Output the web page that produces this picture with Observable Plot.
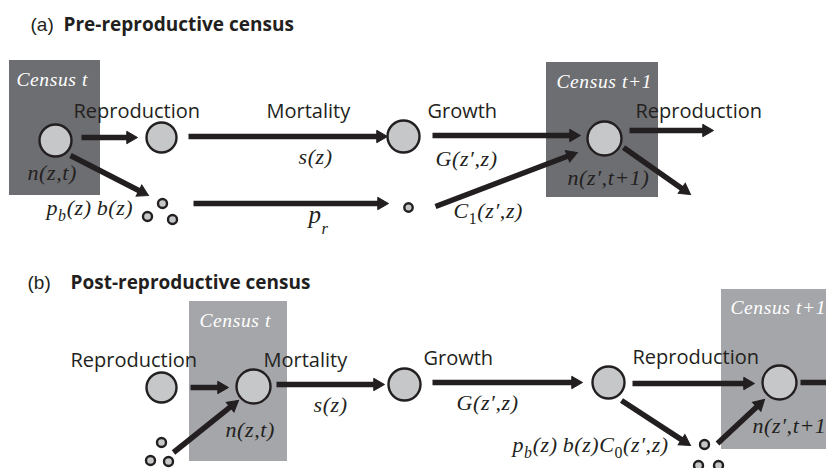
<!DOCTYPE html>
<html><head><meta charset="utf-8">
<script src="https://cdn.jsdelivr.net/npm/d3@7"></script>
<script src="https://cdn.jsdelivr.net/npm/@observablehq/plot@0.6"></script>
<style>body{margin:0;background:#fff}</style>
</head><body><div id="chart"></div>
<script>
const W = 826, H = 468;
const INK = "#231f20";

// Census boxes
const boxLabel = ["Census t", "Census t+1", "Census t", "Census t+1"];
const boxX1 = [9, 546, 189, 721];
const boxX2 = [100, 658, 287, 830];
const boxY1 = [60, 62, 301, 289];
const boxY2 = [195, 197, 461, 449];
const boxFill = ["#6d6e71", "#6d6e71", "#a4a6a9", "#a4a6a9"];
const boxLabelX = [16, 556, 199, 730];
const boxLabelY = [85, 87, 326, 313];

// Individuals (large circles = established, small = recruits)
const nodeX = [55, 161, 403, 604, 147, 162, 172, 408, 161, 253, 404, 608, 779, 161, 150, 168, 704, 698, 718];
const nodeY = [140, 137, 136, 138, 216, 203, 219, 207, 387, 386, 384, 382, 382, 442, 460, 461, 444, 465, 465];
const nodeR = [16, 15, 16, 17, 4.5, 4.5, 4.5, 4.2, 15, 17, 16, 16, 17, 4.5, 4.5, 4.5, 4.5, 4.5, 4.5];

// Transitions
const arrowX1 = [81, 188, 70, 193, 432, 435, 629, 623, 190, 276, 173, 432, 621, 632, 717];
const arrowY1 = [137, 136, 155, 203, 135, 206, 130, 147, 387, 384, 452, 382, 400, 383, 443];
const arrowX2 = [137, 387, 148, 388, 580, 577, 713, 690, 228, 384, 238, 582, 690, 754, 764];
const arrowY2 = [137, 136, 195, 203, 135, 152, 130, 194, 387, 384, 400, 382, 445, 383, 399];
// exit arrow cut by the right edge (no head)
const tailX1 = [800], tailY1 = [382], tailX2 = [840], tailY2 = [382];

// Headings
const headTag = ["(a)", "(b)"];
const headText = ["Pre-reproductive census", "Post-reproductive census"];
const headTagX = [30, 27], headTextX = [63, 70], headY = [30, 288];

// Process labels
const procText = ["Reproduction", "Mortality", "Growth", "Reproduction", "Reproduction", "Mortality", "Growth", "Reproduction"];
const procX = [73, 266, 427, 635, 70, 263, 423, 632];
const procY = [117, 117, 117, 117, 366, 366, 364, 363];

// Kernel / state labels (math); the last one is cut by the figure edge in the source
const mathText = ["n(z,t)", "p_b(z)\u2009b(z)", "s(z)", "p_r", "G(z\u2032,z)", "C_1(z\u2032,z)", "n(z\u2032,t+1)",
                  "s(z)", "n(z,t)", "G(z\u2032,z)", "p_b(z)\u2009b(z)C_0(z\u2032,z)", "n(z\u2032,t+1"];
const mathX = [27, 46, 298, 308, 435, 453, 567, 313, 225, 456, 512, 752];
const mathY = [179, 214, 163, 222, 165, 217, 184, 411, 436, 409, 451, 432];
const mathSize = [22, 22, 22, 25, 22, 22, 22, 22, 22, 22, 22, 22];

const boxes = boxLabel.map((l, i) => ({l, x1: boxX1[i], x2: boxX2[i], y1: boxY1[i], y2: boxY2[i], fill: boxFill[i], lx: boxLabelX[i], ly: boxLabelY[i]}));
const nodes = nodeX.map((x, i) => ({x, y: nodeY[i], r: nodeR[i]}));
const HEAD_R = 4.6;                    // triangle symbol "radius"
const tipOff = 2 * Math.sqrt(Math.PI * HEAD_R * HEAD_R / (3 * Math.sqrt(3)));
const arrows = arrowX1.map((x1, i) => {
  const x2 = arrowX2[i], y1 = arrowY1[i], y2 = arrowY2[i];
  const dx = x2 - x1, dy = y2 - y1, L = Math.hypot(dx, dy), ux = dx / L, uy = dy / L;
  return {x1, y1, x2, y2,
    hx: x2 - ux * tipOff, hy: y2 - uy * tipOff,
    rot: Math.atan2(dx, -dy) * 180 / Math.PI};
});
const tails = tailX1.map((x1, i) => ({x1, y1: tailY1[i], x2: tailX2[i], y2: tailY2[i]}));
const heads = headTag.map((t, i) => ({t, s: headText[i], tx: headTagX[i], sx: headTextX[i], y: headY[i]}));
const procs = procText.map((t, i) => ({t, x: procX[i], y: procY[i]}));
const maths = mathText.map((t, i) => ({t, x: mathX[i], y: mathY[i], fs: mathSize[i]}));

const SANS = "'Open Sans', 'Noto Sans', sans-serif";
const SERIF = "'Liberation Serif', 'DejaVu Serif', serif";

const plot = Plot.plot({
  width: W, height: H, margin: 0,
  x: {domain: [0, W], range: [0, W], axis: null},
  y: {domain: [0, H], range: [0, H], axis: null},
  r: {type: "identity"},
  style: {background: "#fff", color: INK},
  marks: [
    Plot.rect(boxes, {x1: "x1", x2: "x2", y1: "y1", y2: "y2", fill: "fill"}),
    Plot.text(boxes, {x: "lx", y: "ly", text: "l", textAnchor: "start", lineAnchor: "bottom", fill: "#fff",
      fontSize: 19.5, fontStyle: "italic", fontFamily: SERIF}),
    Plot.text(procs, {x: "x", y: "y", text: "t", textAnchor: "start", lineAnchor: "bottom", fill: INK,
      fontSize: 20, fontFamily: SANS}),
    Plot.link(arrows, {x1: "x1", y1: "y1", x2: "hx", y2: "hy", stroke: INK, strokeWidth: 5.5, strokeLinecap: "butt"}),
    Plot.link(tails, {x1: "x1", y1: "y1", x2: "x2", y2: "y2", stroke: INK, strokeWidth: 5.5, strokeLinecap: "butt"}),
    Plot.dot(arrows, {x: "hx", y: "hy", r: HEAD_R, symbol: "triangle", rotate: "rot", fill: INK, stroke: INK, strokeWidth: 1}),
    Plot.dot(nodes, {x: "x", y: "y", r: "r", fill: "#c6c7c9", stroke: INK, strokeWidth: 2.4}),
    Plot.text(maths, {x: "x", y: "y", text: "t", textAnchor: "start", lineAnchor: "bottom", fill: INK,
      fontSize: "fs", fontStyle: "italic", fontFamily: SERIF}),
    Plot.text(heads, {x: "tx", y: "y", text: "t", textAnchor: "start", lineAnchor: "bottom", fill: INK,
      fontSize: 19, fontFamily: "'Liberation Sans', Arial, sans-serif"}),
    Plot.text(heads, {x: "sx", y: "y", text: "s", textAnchor: "start", lineAnchor: "bottom", fill: INK,
      fontSize: 19, fontWeight: "bold", fontFamily: SANS})
  ]
});

// subscripts: turn "x_y" into tspans; slight letter spacing for equation-style labels
const NS = "http://www.w3.org/2000/svg";
plot.querySelectorAll("text").forEach(t => {
  const s = t.textContent;
  if (t.closest("g") && t.closest("g").getAttribute("font-family") === SERIF && t.getAttribute("fill") !== "#fff") {
    t.setAttribute("letter-spacing", "0.6");
  }
  if (!s.includes("_")) return;
  const fs = parseFloat(t.getAttribute("font-size")) || 22;
  const big = s === "p_r";
  const parts = s.split(/(_.)/);
  t.textContent = "";
  let shifted = false;
  const sh = big ? fs * 0.45 : fs * 0.3;
  for (const p of parts) {
    if (!p) continue;
    const ts = document.createElementNS(NS, "tspan");
    if (p.startsWith("_")) {
      ts.textContent = p.slice(1);
      ts.setAttribute("font-size", fs * (big ? 0.66 : 0.72));
      ts.setAttribute("font-style", /[0-9]/.test(p) ? "normal" : "italic");
      ts.setAttribute("dy", sh);
      shifted = true;
    } else {
      ts.textContent = p;
      if (shifted) { ts.setAttribute("dy", -sh); shifted = false; }
    }
    t.appendChild(ts);
  }
});
document.getElementById("chart").appendChild(plot);
</script>
</body></html>
